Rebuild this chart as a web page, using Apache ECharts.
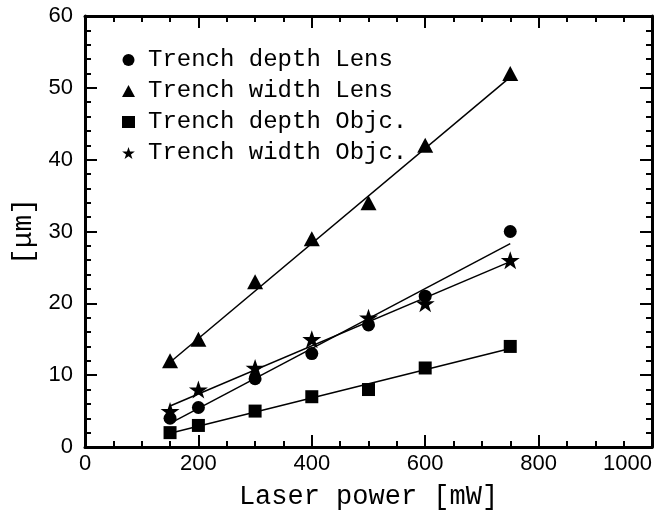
<!DOCTYPE html>
<html>
<head>
<meta charset="utf-8">
<script src="https://cdn.jsdelivr.net/npm/echarts@6/dist/echarts.min.js"></script>
<style>html,body{margin:0;padding:0;background:#fff}#c{width:670px;height:510px}</style>
</head>
<body>
<div id="c"></div>
<script>
// ---- data ----
var power = [150, 200, 300, 400, 500, 600, 750];
var depthLens  = [4, 5.5, 9.5, 13, 17, 21, 30];
var widthLens  = [12, 15, 23, 29, 34, 42, 52];
var depthObjc  = [2, 3, 5, 7, 8, 11, 14];
var widthObjc  = [5, 8, 11, 15, 18, 20, 26];
// fitted line end points (x from 150 to 750)
var fitX = [150, 750];
var fitDepthLens = [3.3, 28.3];
var fitWidthLens = [11.8, 51.5];
var fitDepthObjc = [1.9, 13.7];
var fitWidthObjc = [5.7, 25.8];
var xTicks = [0, 200, 400, 600, 800, 1000];
var yTicks = [0, 10, 20, 30, 40, 50, 60];
var names = ['Trench depth Lens', 'Trench width Lens', 'Trench depth Objc.', 'Trench width Objc.'];

var STAR = 'path://M50,0 L61.8,35.4 L99,35.4 L69,57.3 L80.4,92.7 L50,70.8 L19.6,92.7 L31,57.3 L1,35.4 L38.2,35.4 Z';
var FONT = 'Liberation Mono';
var TICKFONT = 'Liberation Sans';

function pts(ys) { return power.map(function (x, i) { return [x, ys[i]]; }); }
function fit(ys) { return fitX.map(function (x, i) { return [x, ys[i]]; }); }

function axisCommon(showLabel) {
  return {
    axisLine: { show: true, onZero: false, lineStyle: { color: '#000', width: 3 } },
    axisTick: { show: true, inside: true, length: 12, lineStyle: { color: '#000', width: 2 } },
    minorTick: { show: true, length: 6, lineStyle: { color: '#000', width: 2 } },
    splitLine: { show: false },
    axisLabel: { show: showLabel, color: '#000', fontFamily: TICKFONT, fontSize: 22,
      formatter: function (v) { return String(v); } }
  };
}

var xBase = { type: 'value', min: 0, max: 1000, interval: 200 };
var yBase = { type: 'value', min: 0, max: 60, interval: 10 };

var x0 = Object.assign({}, xBase, axisCommon(true), {
  position: 'bottom',
  name: 'Laser power [mW]', nameLocation: 'middle', nameGap: 36,
  nameTextStyle: { color: '#000', fontFamily: FONT, fontSize: 27 }
});
x0.axisLabel.margin = 6;
x0.axisLabel.alignMaxLabel = 'right';
x0.minorTick.splitNumber = 4;
var x1 = Object.assign({}, xBase, axisCommon(false), { position: 'top' });
x1.minorTick.splitNumber = 4;

var y0 = Object.assign({}, yBase, axisCommon(true), {
  position: 'left',
  name: '[\u03bcm]', nameLocation: 'middle', nameGap: 37, nameRotate: 90,
  nameTextStyle: { color: '#000', fontFamily: FONT, fontSize: 28, padding: [12, 0, 0, 0] }
});
y0.axisLabel.margin = 12;
y0.minorTick.splitNumber = 5;
var y1 = Object.assign({}, yBase, axisCommon(false), { position: 'right' });
y1.minorTick.splitNumber = 5;

function scatter(name, ys, symbol, size) {
  return { type: 'scatter', name: name, data: pts(ys), symbol: symbol, symbolSize: size,
    itemStyle: { color: '#000', opacity: 1 }, xAxisIndex: 0, yAxisIndex: 0, z: 3 };
}
function line(ys) {
  return { type: 'line', name: 'fit', data: fit(ys), showSymbol: false, symbol: 'none',
    lineStyle: { color: '#000', width: 1.5 }, xAxisIndex: 0, yAxisIndex: 0, z: 2,
    silent: true, animation: false };
}

var chart = echarts.init(document.getElementById('c'), null, { renderer: 'canvas' });
chart.setOption({
  animation: false,
  backgroundColor: '#fff',
  grid: { left: 85, right: 18, top: 16, bottom: 63, containLabel: false, outerBoundsMode: 'none' },
  xAxis: [x0, x1],
  yAxis: [y0, y1],
  legend: {
    data: [
      { name: names[0], icon: 'circle', itemStyle: { color: '#000', opacity: 1 } },
      { name: names[1], icon: 'triangle', itemStyle: { color: '#000', opacity: 1 } },
      { name: names[2], icon: 'rect', itemStyle: { color: '#000', opacity: 1 } },
      { name: names[3], icon: STAR, itemStyle: { color: '#000', opacity: 1 } }
    ],
    orient: 'vertical', left: 117, top: 43, itemWidth: 13, itemHeight: 12, itemGap: 7,
    textStyle: { color: '#000', fontFamily: FONT, fontSize: 24, padding: [0, 0, 0, 8] },
    selectedMode: false
  },
  series: [
    line(fitDepthLens), line(fitWidthLens), line(fitDepthObjc), line(fitWidthObjc),
    scatter(names[0], depthLens, 'circle', 13),
    scatter(names[1], widthLens, 'triangle', [16, 15]),
    scatter(names[2], depthObjc, 'rect', 13),
    scatter(names[3], widthObjc, STAR, [19, 18])
  ]
});
</script>
</body>
</html>
